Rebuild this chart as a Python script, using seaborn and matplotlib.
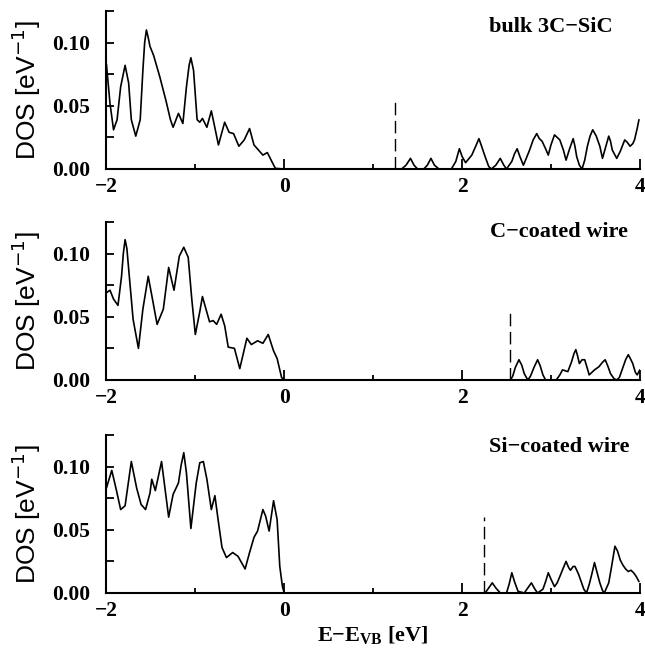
import numpy as np
import pandas as pd
import matplotlib
matplotlib.use("Agg")
import matplotlib.pyplot as plt
from matplotlib.ticker import MultipleLocator, FixedLocator
import seaborn as sns

bulk_e = [-2.00, -1.96, -1.92, -1.88, -1.84, -1.79, -1.75, -1.72, -1.67, -1.62,
          -1.59, -1.57, -1.55, -1.53, -1.51, -1.47, -1.40, -1.33, -1.28, -1.25,
          -1.19, -1.14, -1.10, -1.07, -1.05, -1.02, -0.98, -0.95, -0.92, -0.87,
          -0.82, -0.79, -0.74, -0.67, -0.62, -0.57, -0.51, -0.45, -0.39, -0.34,
          -0.29, -0.24, -0.19, -0.14, -0.10, 0.00,
          1.32, 1.37, 1.42, 1.46, 1.50, 1.57, 1.61, 1.65, 1.69, 1.74,
          1.88, 1.93, 1.97, 2.00, 2.04, 2.11, 2.16, 2.19, 2.22, 2.26,
          2.30, 2.33, 2.38, 2.43, 2.47, 2.50, 2.56, 2.59, 2.62, 2.65,
          2.69, 2.72, 2.76, 2.80, 2.84, 2.87, 2.90, 2.94, 2.97, 3.00,
          3.04, 3.07, 3.10, 3.14, 3.17, 3.21, 3.25, 3.27, 3.29, 3.32,
          3.35, 3.38, 3.41, 3.44, 3.47, 3.51, 3.55, 3.58, 3.61, 3.65,
          3.67, 3.69, 3.74, 3.78, 3.83, 3.86, 3.89, 3.92, 3.94, 3.97, 3.99]
bulk_dos = [0.083, 0.052, 0.031, 0.039, 0.065, 0.082, 0.068, 0.039, 0.026, 0.039,
            0.078, 0.100, 0.110, 0.104, 0.097, 0.090, 0.073, 0.054, 0.039, 0.033,
            0.044, 0.036, 0.065, 0.082, 0.088, 0.078, 0.039, 0.037, 0.040, 0.033,
            0.046, 0.036, 0.019, 0.037, 0.029, 0.028, 0.018, 0.023, 0.032, 0.019,
            0.015, 0.011, 0.013, 0.006, 0.0005, 0.0,
            0.0, 0.003, 0.0084, 0.003, 0.0, 0.0, 0.003, 0.0084, 0.003, 0.0,
            0.0, 0.006, 0.016, 0.010, 0.005, 0.011, 0.019, 0.024, 0.018, 0.0097,
            0.002, 0.0, 0.003, 0.0084, 0.003, 0.0, 0.006, 0.012, 0.016, 0.010,
            0.003, 0.008, 0.015, 0.023, 0.028, 0.024, 0.022, 0.016, 0.011, 0.019,
            0.027, 0.025, 0.023, 0.015, 0.007, 0.016, 0.024, 0.018, 0.0097, 0.003,
            0.0, 0.007, 0.018, 0.026, 0.031, 0.026, 0.018, 0.0084, 0.016, 0.026,
            0.022, 0.015, 0.0084, 0.014, 0.023, 0.021, 0.018, 0.020, 0.023, 0.032, 0.039]

c_e = [-2.00, -1.96, -1.92, -1.87, -1.83, -1.81, -1.79, -1.77, -1.76, -1.70,
       -1.64, -1.59, -1.53, -1.49, -1.43, -1.36, -1.30, -1.24, -1.18, -1.13,
       -1.08, -1.04, -1.00, -0.95, -0.92, -0.88, -0.84, -0.80, -0.76, -0.71,
       -0.67, -0.63, -0.56, -0.50, -0.42, -0.37, -0.30, -0.24, -0.18, -0.12,
       -0.08, -0.03, 0.00,
       2.545, 2.57, 2.60, 2.64, 2.67, 2.70, 2.74, 2.77, 2.81, 2.85,
       2.88, 2.91, 2.94, 3.06, 3.10, 3.13, 3.19, 3.23, 3.26, 3.28,
       3.30, 3.32, 3.35, 3.38, 3.41, 3.43, 3.46, 3.49, 3.54, 3.58,
       3.61, 3.64, 3.67, 3.71, 3.74, 3.77, 3.80, 3.84, 3.87, 3.90,
       3.92, 3.95, 3.97, 4.00]
c_dos = [0.069, 0.071, 0.064, 0.059, 0.082, 0.100, 0.111, 0.104, 0.096, 0.048,
         0.025, 0.056, 0.082, 0.067, 0.044, 0.056, 0.089, 0.071, 0.098, 0.105,
         0.097, 0.064, 0.036, 0.054, 0.066, 0.056, 0.046, 0.047, 0.044, 0.052,
         0.043, 0.026, 0.025, 0.009, 0.033, 0.028, 0.031, 0.029, 0.036, 0.023,
         0.017, 0.002, 0.0,
         0.0, 0.003, 0.010, 0.016, 0.012, 0.005, 0.0, 0.003, 0.010, 0.016,
         0.011, 0.004, 0.0, 0.0, 0.004, 0.008, 0.0066, 0.014, 0.021, 0.024,
         0.019, 0.013, 0.016, 0.016, 0.009, 0.004, 0.006, 0.008, 0.0105, 0.014,
         0.016, 0.011, 0.005, 0.001, 0.0, 0.002, 0.008, 0.016, 0.020, 0.016,
         0.013, 0.006, 0.004, 0.008]

si_e = [-2.00, -1.94, -1.89, -1.84, -1.79, -1.72, -1.66, -1.61, -1.56, -1.51,
        -1.49, -1.45, -1.38, -1.34, -1.30, -1.25, -1.19, -1.16, -1.13, -1.10,
        -1.05, -0.99, -0.95, -0.91, -0.87, -0.82, -0.78, -0.74, -0.70, -0.65,
        -0.58, -0.52, -0.44, -0.39, -0.34, -0.30, -0.24, -0.21, -0.17, -0.12,
        -0.08, -0.05, -0.02, 0.00,
        2.26, 2.30, 2.34, 2.38, 2.43, 2.50, 2.53, 2.56, 2.59, 2.63,
        2.70, 2.74, 2.78, 2.82, 2.85, 2.91, 2.94, 2.97, 3.00, 3.04,
        3.07, 3.10, 3.14, 3.17, 3.20, 3.22, 3.25, 3.27, 3.31, 3.34,
        3.37, 3.40, 3.43, 3.46, 3.49, 3.52, 3.55, 3.58, 3.60, 3.65,
        3.68, 3.72, 3.75, 3.78, 3.81, 3.84, 3.87, 3.90, 3.93, 3.96, 3.99]
si_dos = [0.083, 0.097, 0.082, 0.066, 0.069, 0.104, 0.083, 0.070, 0.066, 0.079,
          0.090, 0.081, 0.104, 0.082, 0.060, 0.078, 0.087, 0.101, 0.111, 0.095,
          0.051, 0.087, 0.103, 0.104, 0.090, 0.066, 0.077, 0.056, 0.036, 0.028,
          0.032, 0.029, 0.019, 0.032, 0.044, 0.049, 0.066, 0.061, 0.049, 0.073,
          0.058, 0.021, 0.005, 0.0,
          0.0, 0.004, 0.008, 0.004, 0.0, 0.0, 0.007, 0.016, 0.009, 0.0013,
          0.0, 0.004, 0.008, 0.003, 0.0, 0.003, 0.009, 0.016, 0.011, 0.005,
          0.008, 0.013, 0.020, 0.025, 0.020, 0.018, 0.021, 0.021, 0.015, 0.009,
          0.003, 0.0, 0.0066, 0.015, 0.024, 0.016, 0.008, 0.002, 0.0, 0.008,
          0.020, 0.037, 0.033, 0.026, 0.022, 0.019, 0.017, 0.018, 0.016, 0.013, 0.009]

labels = ["bulk 3C\u2212SiC", "C\u2212coated wire", "Si\u2212coated wire"]
cbm = [1.25, 2.545, 2.25]          # conduction band minimum (dashed marker)
cbm_height = [0.057, 0.055, 0.060]

curves = [(bulk_e, bulk_dos), (c_e, c_dos), (si_e, si_dos)]

sns.set_theme(style="ticks")
plt.rcParams['font.family'] = ['Liberation Serif', 'DejaVu Serif']
plt.rcParams['mathtext.fontset'] = 'custom'
plt.rcParams['mathtext.rm'] = 'Liberation Serif:bold'
plt.rcParams['mathtext.bf'] = 'Liberation Serif:bold'

fig = plt.figure(figsize=(6.45, 6.54), dpi=100)
bottoms = [0.7416, 0.419, 0.0933]
left, width, height = 0.165, 0.827, 0.2416
label_pos = [(0.949, 0.90), (0.977, 0.937), (0.981, 0.924)]

for i, ((e, d), lab) in enumerate(zip(curves, labels)):
    ax = fig.add_axes([left, bottoms[i], width, height])
    df = pd.DataFrame({"E": e, "DOS": d})
    sns.lineplot(data=df, x="E", y="DOS", ax=ax, color="black", lw=1.2,
                 sort=False, estimator=None)
    ax.plot([cbm[i], cbm[i]], [0, cbm_height[i]], color="black", lw=1.0,
            dashes=(9, 4))
    ax.set_xlim(-2, 4)
    ax.set_ylim(0, 0.125)
    ax.xaxis.set_major_locator(FixedLocator([-2, 0, 2, 4]))
    ax.xaxis.set_minor_locator(MultipleLocator(1))
    ax.yaxis.set_major_locator(FixedLocator([0.0, 0.05, 0.10]))
    ax.yaxis.set_minor_locator(MultipleLocator(0.025))
    ax.set_xticklabels(["\u22122", "0", "2", "4"])
    ax.set_yticklabels(["0.00", "0.05", "0.10"])
    ax.tick_params(axis="both", which="both", direction="in", width=1.3,
                   labelsize=15.5, colors="black")
    ax.tick_params(axis="x", which="major", length=7, pad=6)
    ax.tick_params(axis="x", which="minor", length=3.5)
    ax.tick_params(axis="y", which="both", length=6, pad=12)
    for t in ax.get_xticklabels() + ax.get_yticklabels():
        t.set_fontweight("bold")
    sns.despine(ax=ax)
    for s in ["left", "bottom"]:
        ax.spines[s].set_linewidth(1.5)
        ax.spines[s].set_color("black")
    ax.set_ylabel("DOS [eV$^{\\mathsf{-1}}$]", family=["Liberation Sans", "DejaVu Sans"],
                  fontsize=19, labelpad=6, color="black")
    ax.set_xlabel("")
    ax.text(label_pos[i][0], label_pos[i][1], lab, transform=ax.transAxes,
            ha="right", va="center", fontsize=16, fontweight="bold", color="black")
    if i == 2:
        ax.set_xlabel("E\u2212E$_{\\mathrm{VB}}$ [eV]", fontsize=16,
                      fontweight="bold", labelpad=2, color="black")

fig.savefig("out.png", dpi=100)
